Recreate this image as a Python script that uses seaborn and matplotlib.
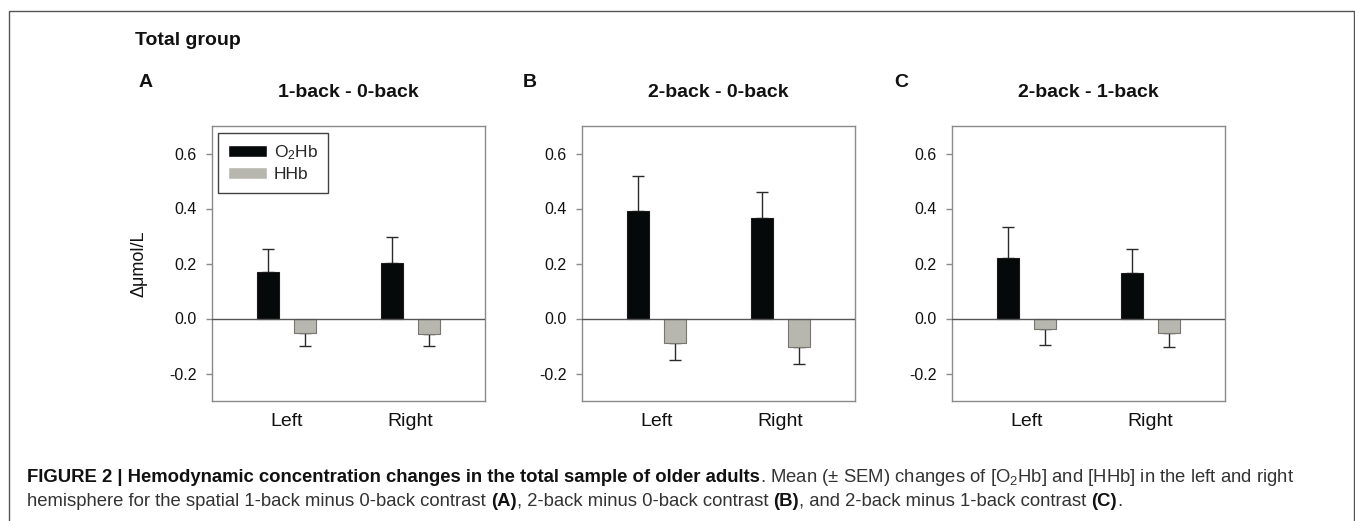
import matplotlib
matplotlib.use("Agg")
import matplotlib.pyplot as plt
import matplotlib.patches as mpatches
from matplotlib.container import BarContainer
import numpy as np
import pandas as pd
import seaborn as sns

# values (mean and SEM, umol/L)
sides = ["Left", "Right"]
chromo = ["O$_2$Hb", "HHb"]
panel_letters = ["A", "B", "C"]
panel_titles = ["1-back - 0-back", "2-back - 0-back", "2-back - 1-back"]

o2hb_mean = [[0.170, 0.202], [0.391, 0.367], [0.221, 0.165]]
o2hb_sem = [[0.081, 0.093], [0.129, 0.093], [0.113, 0.089]]
hhb_mean = [[-0.054, -0.056], [-0.089, -0.102], [-0.038, -0.051]]
hhb_sem = [[0.045, 0.045], [0.061, 0.063], [0.060, 0.053]]

yticks = [-0.2, 0.0, 0.2, 0.4, 0.6]

sns.set_theme(style="white")
plt.rcParams["font.family"] = ["Liberation Sans", "DejaVu Sans"]
plt.rcParams["mathtext.fontset"] = "custom"
plt.rcParams["mathtext.rm"] = "Liberation Sans"
plt.rcParams["mathtext.it"] = "Liberation Sans:italic"
plt.rcParams["mathtext.bf"] = "Liberation Sans:bold"

W, H = 1355, 521
fig = plt.figure(figsize=(W / 100, H / 100), dpi=100)

palette = {chromo[0]: "#060909", chromo[1]: "#b9b9ad"}
edges = {chromo[0]: "#1a1a1a", chromo[1]: "#77776f"}
lefts = [212, 582, 952]
ax_w, ax_top, ax_bot = 273, 126, 401
grey = "#8a8a8a"

for i in range(3):
    ax = fig.add_axes([lefts[i] / W, 1 - ax_bot / H, ax_w / W, (ax_bot - ax_top) / H])
    df = pd.DataFrame({
        "side": sides * 2,
        "chromo": [chromo[0]] * 2 + [chromo[1]] * 2,
        "value": o2hb_mean[i] + hhb_mean[i],
    })
    sns.barplot(data=df, x="side", y="value", hue="chromo", order=sides,
                hue_order=chromo, palette=palette, width=0.6, gap=0.4,
                errorbar=None, legend=(i == 0), ax=ax, zorder=3)

    sems = [o2hb_sem[i], hhb_sem[i]]
    bars = [c for c in ax.containers if isinstance(c, BarContainer)]
    for k, cont in enumerate(bars):
        for j, p in enumerate(cont.patches):
            p.set_edgecolor(edges[chromo[k]])
            p.set_linewidth(0.8)
            xc = p.get_x() + p.get_width() / 2
            yv = p.get_height()
            if k == 0:
                yerr = [[0], [sems[k][j]]]
            else:
                yerr = [[sems[k][j]], [0]]
            ax.errorbar([xc], [yv], yerr=yerr, fmt="none", ecolor="#2a2a2a",
                        elinewidth=1.0, capsize=4.5, capthick=1.0, zorder=2)

    ax.axhline(0, color="#555555", lw=1.0, zorder=4)
    ax.set_xlim(-0.6, 1.6)
    ax.set_ylim(-0.3, 0.7)
    ax.set_yticks(yticks)
    ax.set_yticklabels([f"{t:.1f}" for t in yticks])
    ax.set_xlabel("")
    ax.set_ylabel("")
    for s in ax.spines.values():
        s.set_visible(True)
        s.set_color(grey)
        s.set_linewidth(1.0)
    ax.tick_params(axis="y", left=True, length=4, width=1, color=grey,
                   labelsize=11.5, pad=7, labelcolor="#111111")
    ax.tick_params(axis="x", bottom=False, length=0, labelsize=14, pad=9,
                   labelcolor="#111111")

    if i == 0:
        ax.set_ylabel("\u0394\u03bcmol/L", fontsize=13, color="#111111")
        ax.yaxis.set_label_coords(-(212 - 147) / ax_w, 0.5)
        handles, labels = ax.get_legend_handles_labels()
        leg = ax.legend(handles, labels, loc="upper left",
                        bbox_to_anchor=(0.022, 0.975), frameon=True,
                        fancybox=False, edgecolor="#111111", fontsize=12.5,
                        handlelength=2.2, handleheight=0.65, handletextpad=0.4,
                        labelspacing=0.3, borderpad=0.6, borderaxespad=0)
        leg.get_frame().set_linewidth(1.0)

    cx = (lefts[i] + ax_w / 2) / W
    fig.text(cx, 1 - 97 / H, panel_titles[i], ha="center", va="baseline",
             fontsize=14, fontweight="bold", color="#111111")

letter_x = [139, 523, 894]
for i in range(3):
    fig.text(letter_x[i] / W, 1 - 87 / H, panel_letters[i], ha="left",
             va="baseline", fontsize=14, fontweight="bold", color="#111111")
fig.text(135 / W, 1 - 45 / H, "Total group", ha="left", va="baseline",
         fontsize=14, fontweight="bold", color="#111111")

# outer frame
fig.patches.append(mpatches.Rectangle((9 / W, -0.1), (1354 - 9) / W, 1 - 11 / H + 0.1,
                                      transform=fig.transFigure, fill=False,
                                      edgecolor="#555555", lw=1.0))

# caption with mixed bold / regular runs
cap_size = 13.35
line1 = [("FIGURE 2 | Hemodynamic concentration changes in the total sample of older adults", "bold", False),
         (". Mean (\u00b1 SEM) changes of [O$_2$Hb] and [HHb] in the left and right", "normal", False)]
line2 = [("hemisphere for the spatial 1-back minus 0-back contrast", "normal", True),
         ("(A)", "bold", False),
         (", 2-back minus 0-back contrast", "normal", True),
         ("(B)", "bold", False),
         (", and 2-back minus 1-back contrast", "normal", True),
         ("(C)", "bold", False),
         (".", "normal", False)]

renderer = fig.canvas.get_renderer()
space = 0.278 * cap_size * 100 / 72
for line, base in [(line1, 482), (line2, 506)]:
    x = 27
    for txt, weight, trail in line:
        col = "#111111" if weight == "bold" else "#333333"
        t = fig.text(x / W, 1 - base / H, txt, ha="left", va="baseline",
                     fontsize=cap_size, fontweight=weight, color=col)
        bb = t.get_window_extent(renderer)
        x = bb.x1 + (space if trail else 0)

fig.savefig("out.png", dpi=100)
